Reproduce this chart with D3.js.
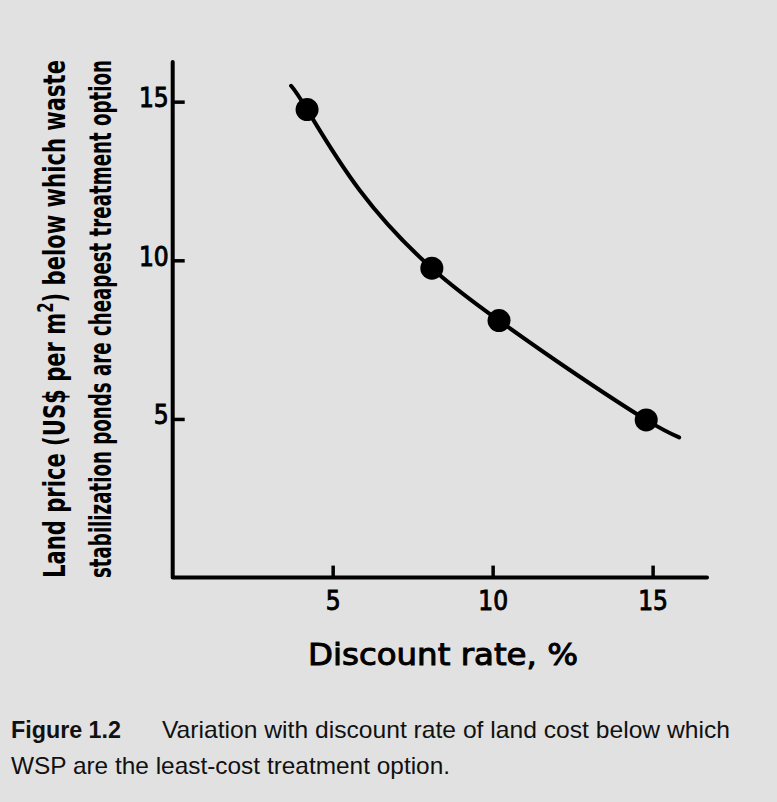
<!DOCTYPE html>
<html>
<head>
<meta charset="utf-8">
<script src="https://cdn.jsdelivr.net/npm/d3@7"></script>
<style>
  html, body { margin: 0; padding: 0; background: #e1e1e1; }
  svg { display: block; }
</style>
</head>
<body>
<div id="chart"></div>
<script>
// data
const pointRates = [4.2, 8.1, 10.2, 14.8];
const pointPrices = [14.75, 9.75, 8.1, 4.97];
const curveRates = [3.7, 4.2, 5.85, 8.1, 10.2, 12.4, 14.8, 15.83];
const curvePrices = [15.5, 14.75, 12.2, 9.75, 8.1, 6.55, 4.97, 4.42];
const xTicks = [5, 10, 15];
const yTicks = [5, 10, 15];

async function draw() {

//*************************1. Set up Measurement
  const width = 777;
  const height = 802;

  const origin = { x: 172.7, y: 577.6 };

//*************************2. Draw Canvas
  const wrapper = d3.select("#chart")
    .append("svg")
    .attr("width", width)
    .attr("height", height)

  wrapper.append("rect")
    .attr("width", width)
    .attr("height", height)
    .attr("fill", "#e1e1e1")

  const bounds = wrapper.append("g")

//*************************3. Scales
  const xScale = d3.scaleLinear()
    .domain([0, 16.7])
    .range([origin.x, 707])

  const yScale = d3.scaleLinear()
    .domain([0, 16.25])
    .range([origin.y, 62])

//*************************4. Axes
  const tickFont = "'DejaVu Sans Condensed', 'DejaVu Sans', sans-serif";

  const xAxis = bounds.append("g")
    .attr("transform", `translate(0, ${origin.y})`)
    .call(d3.axisBottom(xScale).tickValues(xTicks).tickSize(-12).tickSizeOuter(0).tickPadding(0))

  const yAxis = bounds.append("g")
    .attr("transform", `translate(${origin.x}, 0)`)
    .call(d3.axisLeft(yScale).tickValues(yTicks).tickSize(-12).tickSizeOuter(0).tickPadding(0))

  ;[xAxis, yAxis].forEach(ax => {
    ax.select(".domain").remove()
    ax.selectAll(".tick line")
      .attr("stroke", "#000")
      .attr("stroke-width", 3.5)
    ax.selectAll(".tick text")
      .attr("fill", "#000")
      .attr("stroke", "#000")
      .attr("stroke-width", 0.9)
      .style("font-family", tickFont)
      .style("font-size", "26px")
  })

  xAxis.selectAll(".tick text")
    .attr("y", 32)
    .attr("dy", null)

  yAxis.selectAll(".tick text")
    .attr("x", -4)
    .attr("dy", null)
    .attr("y", 5)

  // axis lines joined at the corner
  bounds.append("path")
    .attr("d", d3.line()([[xScale(0), yScale(16.25)], [xScale(0), yScale(0)], [xScale(16.7), yScale(0)]]))
    .attr("fill", "none")
    .attr("stroke", "#000")
    .attr("stroke-width", 4)
    .attr("stroke-linejoin", "round")
    .attr("stroke-linecap", "round")

//*************************5. Curve and points
  const curveData = curveRates.map((r, i) => ({ rate: r, price: curvePrices[i] }))
  const pointData = pointRates.map((r, i) => ({ rate: r, price: pointPrices[i] }))

  const lineGen = d3.line()
    .x(d => xScale(d.rate))
    .y(d => yScale(d.price))
    .curve(d3.curveNatural)

  bounds.append("path")
    .datum(curveData)
    .attr("d", lineGen)
    .attr("fill", "none")
    .attr("stroke", "#000")
    .attr("stroke-width", 4)
    .attr("stroke-linecap", "round")

  bounds.selectAll("circle.pt")
    .data(pointData)
    .join("circle")
    .attr("class", "pt")
    .attr("cx", d => xScale(d.rate))
    .attr("cy", d => yScale(d.price))
    .attr("r", 11.5)
    .attr("fill", "#000")

//*************************6. Labels
  wrapper.append("text")
    .attr("x", 443)
    .attr("y", 665)
    .attr("text-anchor", "middle")
    .attr("textLength", 270)
    .attr("lengthAdjust", "spacingAndGlyphs")
    .attr("stroke", "#000")
    .attr("stroke-width", 1)
    .style("font-family", "'DejaVu Sans', sans-serif")
    .style("font-size", "31px")
    .text("Discount rate, %")

  const yLabFont = "'Liberation Sans Narrow', 'DejaVu Sans Condensed', 'Liberation Sans', sans-serif";

  const yLab1 = wrapper.append("text")
    .attr("transform", "translate(65, 319) rotate(-90)")
    .attr("text-anchor", "middle")
    .attr("textLength", 518)
    .attr("lengthAdjust", "spacingAndGlyphs")
    .style("font-family", yLabFont)
    .style("font-weight", "bold")
    .style("font-size", "30px")
  yLab1.append("tspan").text("Land price (US$ per m")
  yLab1.append("tspan").attr("dy", -12).style("font-size", "21px").text("2")
  yLab1.append("tspan").attr("dy", 12).text(") below which waste")

  wrapper.append("text")
    .attr("transform", "translate(111, 319) rotate(-90)")
    .attr("text-anchor", "middle")
    .attr("textLength", 518)
    .attr("lengthAdjust", "spacingAndGlyphs")
    .style("font-family", yLabFont)
    .style("font-weight", "bold")
    .style("font-size", "30px")
    .text("stabilization ponds are cheapest treatment option")

//*************************7. Caption
  const capFont = "'Liberation Sans Narrow', 'Liberation Sans', Arial, sans-serif";

  wrapper.append("text")
    .attr("x", 11)
    .attr("y", 738)
    .attr("textLength", 110)
    .attr("lengthAdjust", "spacingAndGlyphs")
    .style("font-family", capFont)
    .style("font-size", "24px")
    .style("font-weight", "bold")
    .attr("fill", "#111")
    .text("Figure 1.2")

  wrapper.append("text")
    .attr("x", 162)
    .attr("y", 738)
    .attr("textLength", 568)
    .attr("lengthAdjust", "spacingAndGlyphs")
    .style("font-family", capFont)
    .style("font-size", "24px")
    .attr("fill", "#111")
    .text("Variation with discount rate of land cost below which")

  wrapper.append("text")
    .attr("x", 11)
    .attr("y", 774)
    .attr("textLength", 439)
    .attr("lengthAdjust", "spacingAndGlyphs")
    .style("font-family", capFont)
    .style("font-size", "24px")
    .attr("fill", "#111")
    .text("WSP are the least-cost treatment option.")
}
draw()
</script>
</body>
</html>
